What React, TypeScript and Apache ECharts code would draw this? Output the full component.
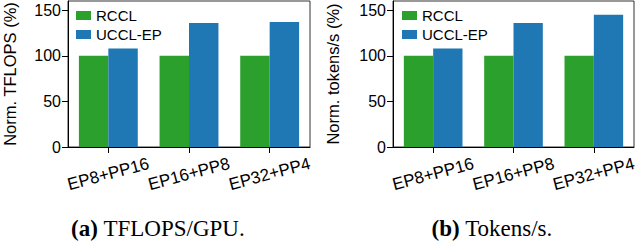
import React, { useEffect, useRef } from "react";
import * as echarts from "echarts";

const categories = ["EP8+PP16", "EP16+PP8", "EP32+PP4"];
const seriesNames = ["RCCL", "UCCL-EP"];
const rcclTflops = [100, 100, 100];
const ucclTflops = [108, 136, 137];
const rcclTokens = [100, 100, 100];
const ucclTokens = [108, 136, 145];
const yTicks = [0, 50, 100, 150];
const yTitles = ["Norm. TFLOPS (%)", "Norm. tokens/s (%)"];
const captions = [
  ["(a)", " TFLOPS/GPU."],
  ["(b)", " Tokens/s."],
];

const GREEN = "#2ca02c";
const BLUE = "#1f77b4";
const SANS = "'Liberation Sans', Arial, Helvetica, sans-serif";
const SERIF = "'Liberation Serif', 'Times New Roman', serif";

export default function App() {
  const ref = useRef<HTMLDivElement>(null);
  useEffect(() => {
    if (!ref.current) return;
    const chart = echarts.init(ref.current, undefined, { renderer: "svg" });
    const grids = [
      { left: 67, right: 329, top: 1, bottom: 94 },
      { left: 393, right: 3, top: 1, bottom: 94 },
    ];
    const xAxis = grids.map((_, i) => ({
      type: "category",
      gridIndex: i,
      data: categories,
      axisLine: { show: true, lineStyle: { color: "#000", width: 1 } },
      axisTick: { show: true, interval: 0, alignWithLabel: true, length: 6, lineStyle: { color: "#000" } },
      axisLabel: {
        interval: 0,
        hideOverlap: false,
        rotate: 15,
        align: "center",
        verticalAlign: "middle",
        margin: 27,
        fontSize: 17,
        fontFamily: SANS,
        color: "#000",
      },
    }));
    const yAxis = grids.map((_, i) => ({
      type: "value",
      gridIndex: i,
      min: 0,
      max: 160,
      interval: 50,
      name: yTitles[i],
      nameLocation: "middle",
      nameGap: i === 0 ? 50 : 52,
      nameTextStyle: { fontSize: 16.5, fontFamily: SANS, color: "#000" },
      splitLine: { show: false },
      axisLine: { show: true, lineStyle: { color: "#000", width: 1 } },
      axisTick: { show: true, length: 6, customValues: yTicks, lineStyle: { color: "#000" } },
      axisLabel: {
        customValues: yTicks,
        fontSize: 16,
        fontFamily: SANS,
        color: "#000",
        margin: 7,
      },
    }));
    const mk = (name: string, data: number[], idx: number, color: string) => ({
      type: "bar",
      name,
      xAxisIndex: idx,
      yAxisIndex: idx,
      data,
      barGap: "0%",
      barCategoryGap: "27%",
      itemStyle: { color },
    });
    chart.setOption({
      animation: false,
      grid: grids.map((g) => ({ ...g, show: true, borderColor: "#333", borderWidth: 1, backgroundColor: "transparent" })),
      xAxis,
      yAxis,
      legend: [
        { left: 76, top: 8 },
        { left: 402, top: 8 },
      ].map((p) => ({
        ...p,
        padding: 0,
        orient: "vertical",
        data: seriesNames,
        itemWidth: 15,
        itemHeight: 9,
        itemGap: 4,
        icon: "rect",
        textStyle: { fontSize: 15, fontFamily: SANS, color: "#000" },
      })),
      series: [
        mk(seriesNames[0], rcclTflops, 0, GREEN),
        mk(seriesNames[1], ucclTflops, 0, BLUE),
        mk(seriesNames[0], rcclTokens, 1, GREEN),
        mk(seriesNames[1], ucclTokens, 1, BLUE),
      ],
      graphic: [
        { x: 158, y: 228 },
        { x: 492, y: 228 },
      ].map((p, i) => ({
        type: "text",
        x: p.x,
        y: p.y,
        style: {
          text: `{b|${captions[i][0]}}{n|${captions[i][1]}}`,
          align: "center",
          verticalAlign: "middle",
          rich: {
            b: { fontFamily: SERIF, fontSize: 23, fontWeight: "bold", fill: "#000" },
            n: { fontFamily: SERIF, fontSize: 23, fill: "#000" },
          },
        },
      })),
    });
    return () => chart.dispose();
  }, []);
  return (
    <div
      ref={ref}
      style={{ position: "fixed", left: 0, top: 0, width: 639, height: 241, background: "#fff" }}
    />
  );
}
